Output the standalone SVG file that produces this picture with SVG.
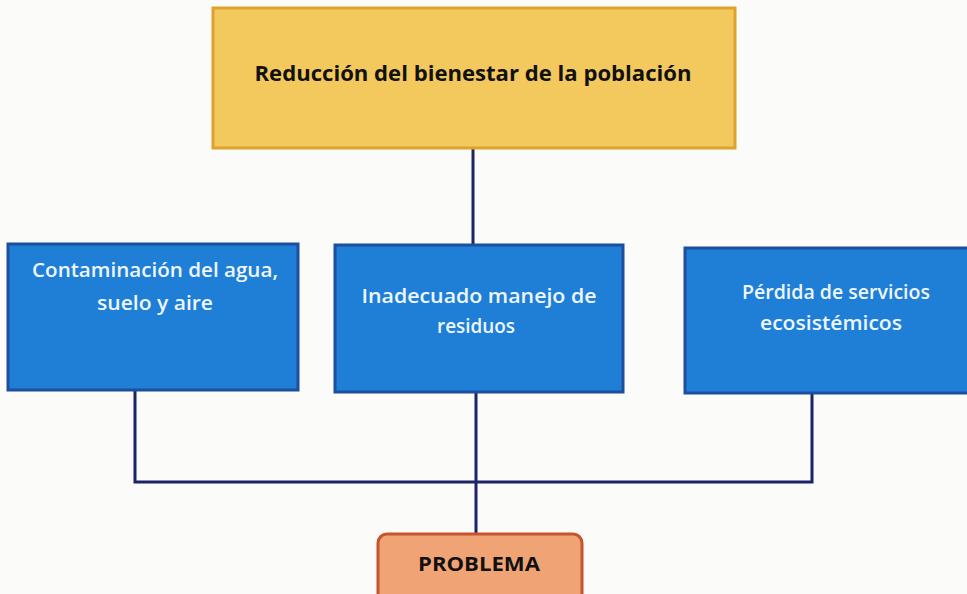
<svg xmlns="http://www.w3.org/2000/svg" width="967" height="594" viewBox="0 0 967 594">
<style>
.bg{fill:#fbfbfa}
.blue{fill:#1f7fd6;stroke:#1d4f9e;stroke-width:3}
.btxt{font-family:"Open Sans","Liberation Sans",sans-serif;font-weight:600;font-size:20px;fill:#eef6ff;text-anchor:middle}
.ttxt{font-family:"Open Sans","Liberation Sans",sans-serif;font-weight:bold;font-size:22px;fill:#111;text-anchor:middle}
.con{fill:none;stroke:#1a2466;stroke-width:3}
</style>
<rect class="bg" x="0" y="0" width="967" height="594"/>
<g id="connectors">
<line class="con" x1="473" y1="148" x2="473" y2="245"/>
<polyline class="con" points="135,390 135,482 812,482 812,393"/>
<line class="con" x1="476" y1="392" x2="476" y2="534"/>
</g>
<g id="efecto">
<rect x="213" y="8" width="522" height="140" fill="#f3c85c" stroke="#dca32e" stroke-width="3"/>
<text class="ttxt" x="473" y="81" textLength="437" lengthAdjust="spacingAndGlyphs">Reducción del bienestar de la población</text>
</g>
<g id="causa1">
<rect class="blue" x="8" y="244" width="290" height="146"/>
<text class="btxt" x="155" y="277" textLength="246" lengthAdjust="spacingAndGlyphs">Contaminación del agua,</text>
<text class="btxt" x="155" y="310" textLength="116" lengthAdjust="spacingAndGlyphs">suelo y aire</text>
</g>
<g id="causa2">
<rect class="blue" x="335" y="245" width="288" height="147"/>
<text class="btxt" x="479" y="303" textLength="235" lengthAdjust="spacingAndGlyphs">Inadecuado manejo de</text>
<text class="btxt" x="476" y="333" textLength="78" lengthAdjust="spacingAndGlyphs">residuos</text>
</g>
<g id="causa3">
<rect class="blue" x="685" y="248" width="290" height="145"/>
<text class="btxt" x="836" y="299" textLength="188" lengthAdjust="spacingAndGlyphs">Pérdida de servicios</text>
<text class="btxt" x="831" y="330" textLength="142" lengthAdjust="spacingAndGlyphs">ecosistémicos</text>
</g>
<g id="problema">
<rect x="378" y="534" width="204" height="70" rx="9" fill="#f0a475" stroke="#c9532c" stroke-width="3"/>
<text x="479" y="571" font-family="'Open Sans','Liberation Sans',sans-serif" font-weight="bold" font-size="20" fill="#111" text-anchor="middle" textLength="122" lengthAdjust="spacingAndGlyphs">PROBLEMA</text>
</g>
</svg>
